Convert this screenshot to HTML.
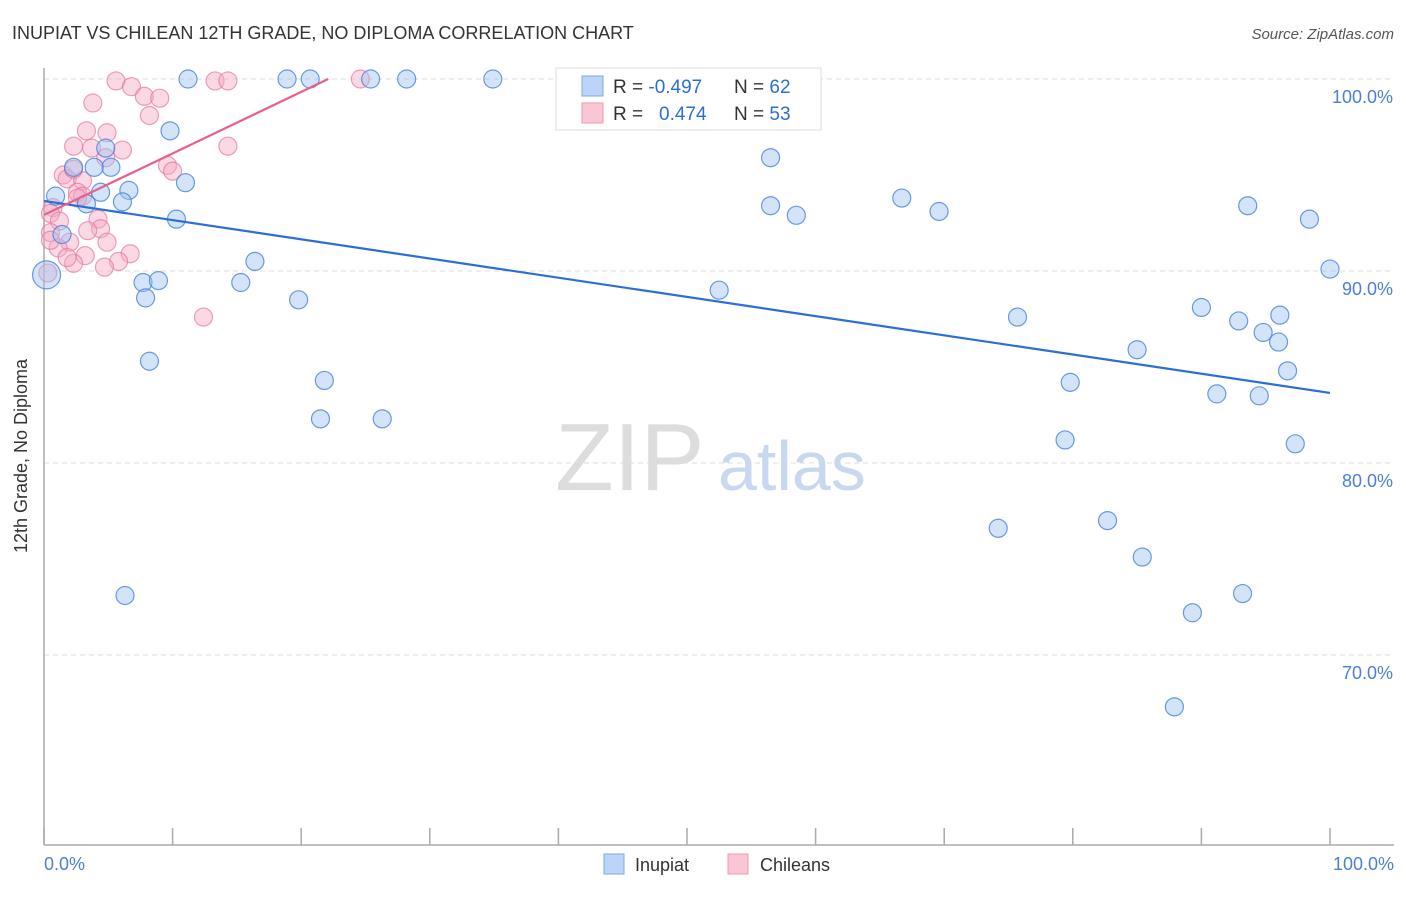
<!DOCTYPE html>
<html><head><meta charset="utf-8"><style>
body{margin:0;background:#fff;font-family:"Liberation Sans",sans-serif;}
svg text{font-family:"Liberation Sans",sans-serif;}
</style></head><body>
<svg id="chart" width="1406" height="892" xmlns="http://www.w3.org/2000/svg">
<text x="12" y="39" font-size="18" fill="#333">INUPIAT VS CHILEAN 12TH GRADE, NO DIPLOMA CORRELATION CHART</text>
<text x="1394" y="39" font-size="15" fill="#555" font-style="italic" text-anchor="end">Source: ZipAtlas.com</text>
<g id="grid"></g>
<text x="555" y="490" font-size="96" fill="#ddd" font-family="Liberation Serif">ZIP</text>
<text x="718" y="490" font-size="70" fill="#c8d8f0">atlas</text>
<line x1="44" y1="68" x2="44" y2="845" stroke="#aaa" stroke-width="1.5"/>
<line x1="44" y1="845" x2="1394" y2="845" stroke="#aaa" stroke-width="1.5"/>
<g id="ticks"></g>
<g id="pts"></g>
<g id="lines"></g>
<text x="27" y="456" font-size="18" fill="#333" text-anchor="middle" transform="rotate(-90 27 456)">12th Grade, No Diploma</text>
<text x="44" y="870" font-size="18" fill="#4a7fd6">0.0%</text>
<text x="1394" y="870" font-size="18" fill="#4a7fd6" text-anchor="end">100.0%</text>
<g>
<rect x="556" y="68" width="265" height="62" fill="#fff" stroke="#ddd"/>
<rect x="582" y="76" width="21" height="20" fill="#bcd4f6" stroke="#7ea7e6"/>
<rect x="582" y="103" width="21" height="20" fill="#f9c6d5" stroke="#ec9ab3"/>
<text x="613" y="93" font-size="19" fill="#333">R = <tspan fill="#2a6fd6">-0.497</tspan></text>
<text x="734" y="93" font-size="19" fill="#333">N = <tspan fill="#2a6fd6">62</tspan></text>
<text x="613" y="120" font-size="19" fill="#333">R = </text>
<text x="659" y="120" font-size="19" fill="#2a6fd6">0.474</text>
<text x="734" y="120" font-size="19" fill="#333">N = <tspan fill="#2a6fd6">53</tspan></text>
</g>
<g>
<rect x="604" y="854" width="20" height="20" fill="#bcd4f6" stroke="#7ea7e6"/>
<text x="635" y="871" font-size="18" fill="#333">Inupiat</text>
<rect x="728" y="854" width="20" height="20" fill="#f9c6d5" stroke="#ec9ab3"/>
<text x="760" y="871" font-size="18" fill="#333">Chileans</text>
</g>
</svg>
<script>
const yTicks=[100,90,80,70];
const yTickLabels=["100.0%","90.0%","80.0%","70.0%"];
const xTicks=[0,10,20,30,40,50,60,70,80,90,100];
const blueX=[11.2,18.9,20.7,25.4,28.2,34.9,47.2,9.8,56.5,4.8,5.2,2.3,3.9,11.0,6.6,4.4,0.9,3.3,6.1,10.3,56.5,58.5,66.7,69.6,93.6,98.4,100,0.2,16.4,7.7,8.9,7.9,15.3,19.8,52.5,75.7,90.0,92.9,96.1,94.8,96.0,96.7,85.0,8.2,21.8,21.5,26.3,79.8,91.2,94.5,79.4,97.3,74.2,82.7,85.4,89.3,93.2,6.3,87.9,1.4];
const blueY=[100,100,100,100,100,100,100,97.3,95.9,96.4,95.4,95.4,95.4,94.6,94.2,94.1,93.9,93.5,93.6,92.7,93.4,92.9,93.8,93.1,93.4,92.7,90.1,89.8,90.5,89.4,89.5,88.6,89.4,88.5,89.0,87.6,88.1,87.4,87.7,86.8,86.3,84.8,85.9,85.3,84.3,82.3,82.3,84.2,83.6,83.5,81.2,81.0,76.6,77.0,75.1,72.2,73.2,73.1,67.3,91.9];
const pinkX=[5.6,6.8,7.8,9.0,3.8,8.2,3.3,4.9,2.3,3.7,6.1,4.8,9.6,10.0,14.3,13.3,14.3,24.6,1.5,1.8,3.0,2.3,2.6,3.0,0.7,0.5,1.2,4.2,4.4,3.4,0.5,2.0,4.9,1.1,3.2,6.7,5.8,4.7,2.3,1.8,12.4,0.3,0.5,2.6];
const pinkY=[99.9,99.6,99.1,99.0,98.75,98.1,97.3,97.2,96.5,96.4,96.3,95.9,95.5,95.2,96.5,99.9,99.9,100,95.0,94.8,94.7,95.3,94.1,93.9,93.3,93.0,92.6,92.7,92.2,92.1,92.0,91.5,91.5,91.2,90.8,90.9,90.5,90.2,90.4,90.7,87.6,89.9,91.6,93.8];
const blueLineX=[0,100], blueLineY=[93.65,83.65];
const pinkLineX=[0,22.1], pinkLineY=[92.92,100];
const NS="http://www.w3.org/2000/svg";
const sx=v=>44+v*12.86, sy=v=>79+(100-v)*19.2;
function mk(tag,attrs,parent){const e=document.createElementNS(NS,tag);for(const k in attrs)e.setAttribute(k,attrs[k]);document.getElementById(parent).appendChild(e);return e;}
yTicks.forEach((t,i)=>{
 const l=mk('line',{x1:44,x2:1394,y1:sy(t),y2:sy(t),stroke:'#ddd','stroke-dasharray':'5,4'},'grid');
 
 
 const tx=mk('text',{x:1393,y:sy(t)+24,'font-size':18,fill:'#4a7fd6','text-anchor':'end'},'grid');
 tx.textContent=yTickLabels[i];
 
 
});
xTicks.forEach(t=>{
 const l=mk('line',{x1:sx(t),x2:sx(t),y1:828,y2:845,stroke:'#aaa','stroke-width':1.5},'ticks');
 
 
});
pinkX.forEach((x,i)=>{
 const c=mk('circle',{cx:sx(x),cy:sy(pinkY[i]),r:9,fill:'rgba(245,170,195,0.45)',stroke:'rgba(230,120,155,0.7)','stroke-width':1.2},'pts');
 
 
});
blueX.forEach((x,i)=>{
 const c=mk('circle',{cx:sx(x),cy:sy(blueY[i]),r:(i===27?14:9),fill:'rgba(160,195,240,0.45)',stroke:'rgba(70,130,220,0.8)','stroke-width':1.2},'pts');
 
 
});
const bl=mk('line',{x1:sx(blueLineX[0]),y1:sy(blueLineY[0]),x2:sx(blueLineX[1]),y2:sy(blueLineY[1]),stroke:'#2a6fd6','stroke-width':2.2},'lines');


const pl=mk('line',{x1:sx(pinkLineX[0]),y1:sy(pinkLineY[0]),x2:sx(pinkLineX[1]),y2:sy(pinkLineY[1]),stroke:'#e8608a','stroke-width':2.2},'lines');


</script>
</body></html>
